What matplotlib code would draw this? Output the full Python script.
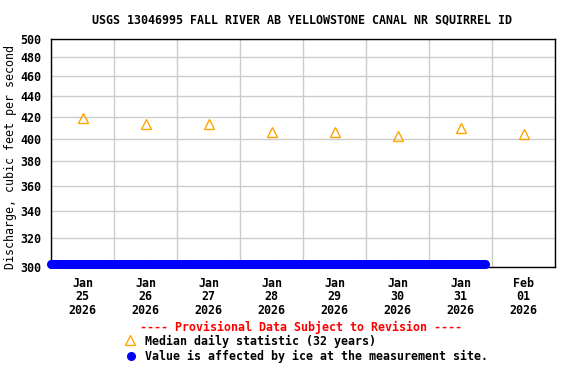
import numpy as np
import pandas as pd
import matplotlib
matplotlib.use("Agg")
import matplotlib.pyplot as plt
import matplotlib.dates as mdates
from matplotlib.ticker import FixedLocator, NullLocator, FixedFormatter

# data
median_days = pd.to_datetime(["2026-01-25 12:00", "2026-01-26 12:00", "2026-01-27 12:00",
                              "2026-01-28 12:00", "2026-01-29 12:00", "2026-01-30 12:00",
                              "2026-01-31 12:00", "2026-02-01 12:00"])
median_cfs = [419, 413.5, 413, 406, 406, 402, 410, 404]

ice_start = "2026-01-25 00:00"
ice_end = "2026-01-31 21:15"
ice_level = 302

y_ticks = [300, 320, 340, 360, 380, 400, 420, 440, 460, 480, 500]
title = "USGS 13046995 FALL RIVER AB YELLOWSTONE CANAL NR SQUIRREL ID"

plt.rcParams['font.family'] = 'DejaVu Sans Mono'
plt.rcParams['font.weight'] = 'bold'
fs = 8.4

fig = plt.figure(figsize=(5.76, 3.84), dpi=100)
ax = fig.add_axes([51/576, 1 - 267/384, 504/576, 228/384])

# ice-affected values, plotted along the bottom (15-minute record)
ice_times = pd.date_range(ice_start, ice_end, freq="15min")
ax.plot(ice_times, [ice_level] * len(ice_times), 'o', color='#0000ff', ms=5.5,
        mec='#0000ff', clip_on=False, zorder=5)

ax.plot(median_days, median_cfs, '^', ms=7, mfc='none', mec='#ffa500', mew=1, zorder=4)

ax.set_yscale('log')
ax.set_ylim(300, 500)
ax.yaxis.set_major_locator(FixedLocator(y_ticks))
ax.yaxis.set_major_formatter(FixedFormatter([str(v) for v in y_ticks]))
ax.yaxis.set_minor_locator(NullLocator())

x0 = pd.Timestamp("2026-01-25")
x1 = pd.Timestamp("2026-02-02")
ax.set_xlim(x0, x1)
day_edges = pd.date_range(x0, x1, freq="D")
ax.set_xticks(day_edges)
ax.set_xticklabels([])
ax.set_xticks(median_days, minor=True)
ax.set_xticklabels([d.strftime("%b\n%d\n%Y") for d in median_days], minor=True)

ax.grid(True, which='major', color='#cccccc', lw=1)
ax.set_axisbelow(True)
ax.tick_params(axis='both', which='both', length=0, labelsize=fs, pad=7)
for t in ax.get_xticklabels(minor=True):
    t.set_linespacing(1.05)
for s in ax.spines.values():
    s.set_color('black')
    s.set_linewidth(1)

ax.set_ylabel("Discharge, cubic feet per second", fontsize=fs)
ax.yaxis.set_label_coords((17 - 51) / 504, (267 - 157) / 228)
fig.text(302/576, 1 - 20/384, title, ha='center', va='center', fontsize=fs)

fig.text(301/576, 1 - 327/384, "---- Provisional Data Subject to Revision ----",
         ha='center', va='center', fontsize=fs, color='red')
fig.text(145/576, 1 - 341/384, "Median daily statistic (32 years)",
         ha='left', va='center', fontsize=fs)
fig.text(145/576, 1 - 356/384, "Value is affected by ice at the measurement site.",
         ha='left', va='center', fontsize=fs)
fig.lines.append(plt.Line2D([130/576], [1 - 340/384], marker='^', ms=7, mfc='none',
                            mec='#ffa500', mew=1, transform=fig.transFigure))
fig.lines.append(plt.Line2D([131/576], [1 - 356/384], marker='o', ms=5.5, color='#0000ff',
                            transform=fig.transFigure))

fig.savefig("out.png", dpi=100)
